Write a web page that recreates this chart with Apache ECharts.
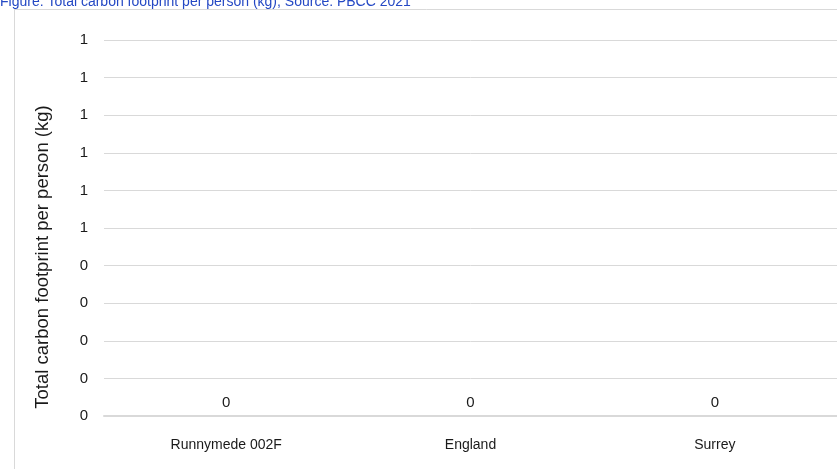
<!DOCTYPE html>
<html>
<head>
<meta charset="utf-8">
<script src="https://cdn.jsdelivr.net/npm/echarts@6/dist/echarts.min.js"></script>
<style>
html,body{margin:0;padding:0;background:#fff;}
#chart{width:837px;height:469px;}
</style>
</head>
<body>
<div id="chart"></div>
<script>
const titleText = "Figure: Total carbon footprint per person (kg), Source: PBCC 2021";
const yAxisName = "Total carbon footprint per person (kg)";
const categories = ["Runnymede 002F", "England", "Surrey"];
const values = [0, 0, 0];
const yMin = 0, yMax = 1, yInterval = 0.1;

const font = '"Liberation Sans", Arial, sans-serif';

const chart = echarts.init(document.getElementById('chart'));
chart.setOption({
  animation: false,
  backgroundColor: '#ffffff',
  title: {
    text: titleText,
    left: 0, top: -5, padding: 0,
    textStyle: {color: '#2448c4', fontFamily: font, fontSize: 14, fontWeight: 'normal'}
  },
  graphic: [{
    type: 'rect', silent: true,
    shape: {x: 14.5, y: 9.5, width: 1000, height: 600},
    style: {fill: 'none', stroke: '#d9d9d9', lineWidth: 1}
  }],
  grid: {left: 104, right: 0, top: 40, bottom: 53, containLabel: false},
  xAxis: {
    type: 'category', data: categories,
    axisLine: {show: true, lineStyle: {color: '#d9d9d9', width: 2}},
    axisTick: {show: false},
    axisLabel: {color: '#1a1a1a', fontFamily: font, fontSize: 14, margin: 22}
  },
  yAxis: {
    type: 'value', min: yMin, max: yMax, interval: yInterval,
    name: yAxisName, nameLocation: 'middle', nameGap: 52,
    nameTextStyle: {color: '#1a1a1a', fontFamily: font, fontSize: 18.5, padding: [0, 58, 0, 0]},
    axisLine: {show: false}, axisTick: {show: false},
    axisLabel: {color: '#1a1a1a', fontFamily: font, fontSize: 15, margin: 16,
      formatter: v => String(Math.round(v))},
    splitLine: {lineStyle: {color: '#d9d9d9', width: 1}}
  },
  series: [{
    type: 'bar', data: values, barWidth: '50%',
    itemStyle: {color: '#4472c4'},
    label: {show: true, position: 'top', distance: 6, color: '#1a1a1a',
      fontFamily: font, fontSize: 15}
  }]
});
</script>
</body>
</html>
